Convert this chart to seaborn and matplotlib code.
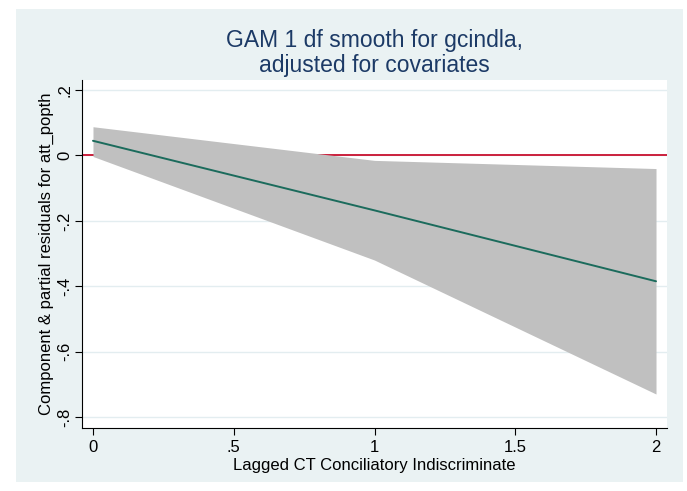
"""GAM partial residual plot, Stata s2color look."""

import matplotlib
matplotlib.use("Agg")
import matplotlib.pyplot as plt
import pandas as pd
import seaborn as sns
from matplotlib.patches import Rectangle

# fitted component and its confidence band
x_vals = [0, 1, 2]
fit = [0.045, -0.168, -0.385]
ci_upper = [0.088, -0.015, -0.040]
ci_lower = [-0.003, -0.320, -0.730]

x_ticks = [0, 0.5, 1, 1.5, 2]
x_ticklabels = ["0", ".5", "1", "1.5", "2"]
y_ticks = [0.2, 0, -0.2, -0.4, -0.6, -0.8]
y_ticklabels = [".2", "0", "-.2", "-.4", "-.6", "-.8"]

BG = "#EAF2F3"
NAVY = "#1C3A66"
W, H = 687, 491

sns.set_theme(style="white")
plt.rcParams["font.family"] = ["Liberation Sans", "DejaVu Sans"]

df = pd.DataFrame({"x": x_vals, "fit": fit, "lo": ci_lower, "hi": ci_upper})

fig = plt.figure(figsize=(W / 100, H / 100), dpi=100, facecolor="white")
# stata graph region (light blue) with a thin white border
fig.patches.append(Rectangle((16 / W, 9 / H), (683 - 16) / W, (482 - 9) / H,
                             transform=fig.transFigure, facecolor=BG,
                             edgecolor="none", zorder=-10))

ax = fig.add_axes([82 / W, (H - 428) / H, (667 - 82) / W, (428 - 80) / H])
ax.set_facecolor("white")

for yt in y_ticks:
    ax.axhline(yt, color="#E3EDF0", lw=1.0, zorder=0)

ax.axhline(0, color="#C8102E", lw=1.3, zorder=1)
ax.fill_between(df["x"], df["lo"], df["hi"], color="#C0C0C0", lw=0, zorder=2)
sns.lineplot(data=df, x="x", y="fit", color="#1B6B5C", lw=1.4, ax=ax, zorder=3)

ax.set_xlim(-0.039, 2.039)
ax.set_ylim(-0.834, 0.231)
ax.set_xticks(x_ticks)
ax.set_xticklabels(x_ticklabels)
ax.set_yticks(y_ticks)
ax.set_yticklabels(y_ticklabels, rotation=90, va="center")
ax.tick_params(axis="both", direction="out", length=5, width=0.8, color="black",
               labelsize=12, labelcolor="black", bottom=True, left=True)
ax.tick_params(axis="x", pad=4)
ax.tick_params(axis="y", pad=2)

for side in ["top", "right"]:
    ax.spines[side].set_visible(False)
for side in ["left", "bottom"]:
    ax.spines[side].set_color("black")
    ax.spines[side].set_linewidth(0.8)

ax.set_xlabel("Lagged CT Conciliatory Indiscriminate", fontsize=12, color="black", labelpad=2)
ax.set_ylabel("Component & partial residuals for att_popth", fontsize=12, color="black", labelpad=2)
ax.set_title("GAM 1 df smooth for gcindla,\nadjusted for covariates", fontsize=16.5,
             color=NAVY, pad=6, linespacing=1.1)

fig.savefig("out.png", dpi=100, facecolor="white")
plt.close(fig)
